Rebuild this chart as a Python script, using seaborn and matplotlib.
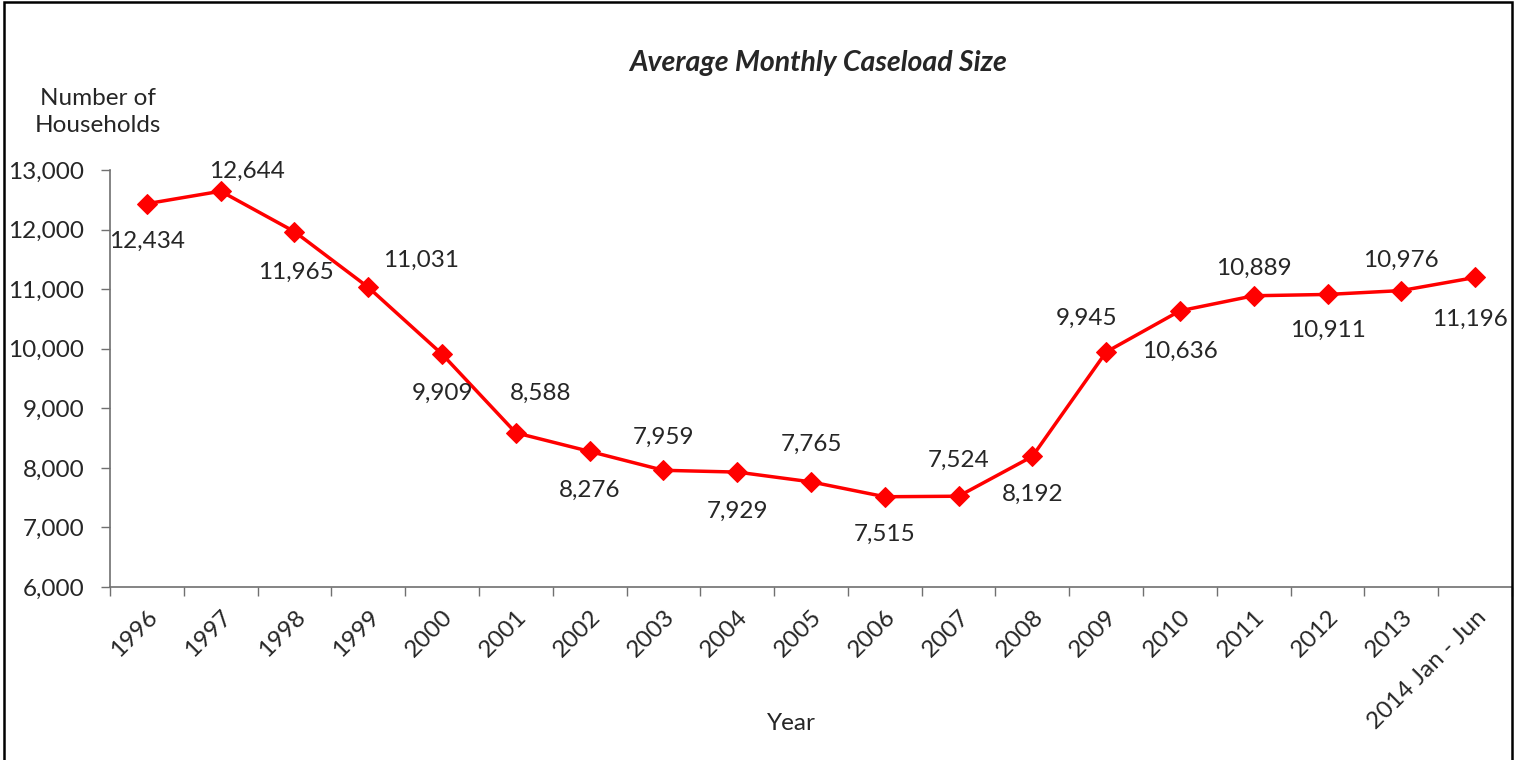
import matplotlib
matplotlib.use("Agg")
import matplotlib.pyplot as plt
import seaborn as sns
import pandas as pd
from matplotlib.patches import Rectangle
from matplotlib.ticker import FixedLocator, FuncFormatter

# data
years = ["1996", "1997", "1998", "1999", "2000", "2001", "2002", "2003", "2004",
         "2005", "2006", "2007", "2008", "2009", "2010", "2011", "2012", "2013",
         "2014 Jan - Jun"]
households = [12434, 12644, 11965, 11031, 9909, 8588, 8276, 7959, 7929,
              7765, 7515, 7524, 8192, 9945, 10636, 10889, 10911, 10976, 11196]

# label offsets (pixels) for the value labels
label_dx = [0, 26, 1, 53, 0, 25, 0, 0, 0, 0, 0, 0, 0, -20, 0, 0, 0, 0, -5]
label_dy = [-38, 20, -41, 27, -39, 39, -39, 33, -39, 38, -38, 36, -38, 34, -41, 27, -36, 30, -42]

sns.set_style("white")
plt.rcParams['font.family'] = ['Lato', 'DejaVu Sans']

df = pd.DataFrame({"pos": range(len(years)), "households": households})

fig = plt.figure(figsize=(15.21, 7.60), dpi=100)
ax = fig.add_axes([110 / 1521, 1 - 587 / 760, (1512 - 110) / 1521, (587 - 170) / 760])

sns.lineplot(data=df, x="pos", y="households", ax=ax, color="#ff0000",
             linewidth=2.5, marker="D", markersize=10.5, markeredgecolor="#ff0000")

for i, v in enumerate(households):
    ax.annotate(f"{v:,}", (i, v), xytext=(label_dx[i], label_dy[i]),
                textcoords="offset pixels", ha="center", va="center", fontsize=17.5)

ax.set_xlim(-0.5, len(years) - 0.5)
ax.set_ylim(6000, 13000)
ax.set_yticks(range(6000, 13001, 1000))
ax.yaxis.set_major_formatter(FuncFormatter(lambda v, p: f"{int(v):,}"))
ax.set_xticks(range(len(years)))
ax.set_xticklabels(years, rotation=45, ha="right", rotation_mode="anchor")
ax.xaxis.set_minor_locator(FixedLocator([i - 0.5 for i in range(len(years) + 1)]))
ax.tick_params(axis="x", which="major", length=0, pad=14, labelsize=17.5)
ax.tick_params(axis="x", which="minor", length=6.5, width=1, color="#707070", direction="out", bottom=True)
ax.tick_params(axis="y", length=6.5, width=1, color="#707070", direction="out", left=True, pad=12, labelsize=17.5)

ax.set_xlabel("")
ax.set_ylabel("")
for s in ["top", "right"]:
    ax.spines[s].set_visible(False)
for s in ["left", "bottom"]:
    ax.spines[s].set_color("#707070")
    ax.spines[s].set_linewidth(1.2)

fig.text(818 / 1521, 1 - 63 / 760, "Average Monthly Caseload Size", ha="center", va="center",
         fontsize=20.5, fontweight="bold", fontstyle="italic")
fig.text(98 / 1521, 1 - 112 / 760, "Number of\nHouseholds", ha="center", va="center",
         fontsize=17.5, linespacing=1.3)
fig.text(791 / 1521, 1 - 724 / 760, "Year", ha="center", va="center", fontsize=17.5)

fig.patches.append(Rectangle((4 / 1521, -0.01), (1512 - 4) / 1521, 1.01 - 2 / 760,
                             transform=fig.transFigure, fill=False, edgecolor="black", linewidth=1.8))

fig.savefig("out.png", dpi=100)
